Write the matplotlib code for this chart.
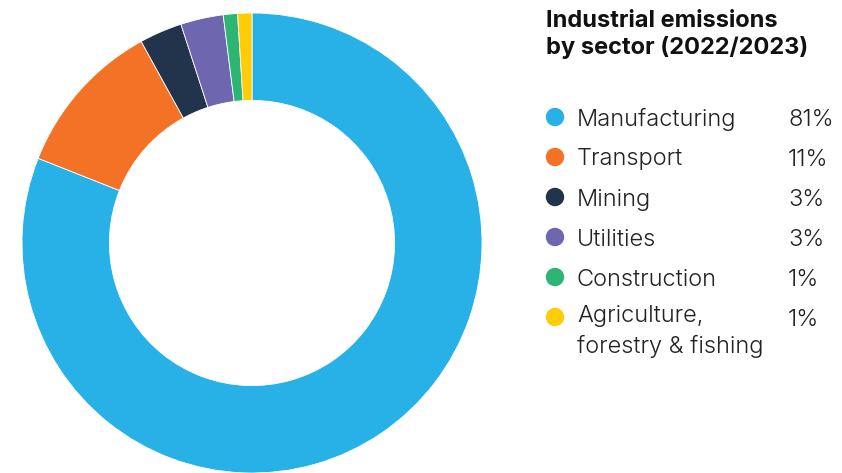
import matplotlib.pyplot as plt
from matplotlib.patches import Circle

sectors = ["Manufacturing", "Transport", "Mining", "Utilities", "Construction",
           "Agriculture,\nforestry & fishing"]
shares = [81, 11, 3, 3, 1, 1]
colors = ["#27B1E6", "#F37225", "#22344C", "#6E67AF", "#2DB574", "#FFCC08"]

W, H = 842, 473
fig = plt.figure(figsize=(W / 100, H / 100), dpi=100)
plt.rcParams['font.family'] = ['Inter', 'DejaVu Sans']

# donut
ax = fig.add_axes([22 / W, 0, 460 / W, 460 / H])
ax.pie(shares, colors=colors, startangle=90, counterclock=False, radius=1,
       wedgeprops=dict(width=0.38, edgecolor='white', linewidth=0.6))
ax.set_xlim(-1, 1)
ax.set_ylim(-1, 1)
ax.set_aspect('equal')
ax.axis('off')

# title
fig.text(546 / W, 1 - 10 / H, "Industrial emissions\nby sector (2022/2023)",
         fontsize=17, fontweight='bold', color='#111111', va='top',
         linespacing=1.2)

# legend rows
row0 = 117
step = 40
for i, (name, val, c) in enumerate(zip(sectors, shares, colors)):
    y = row0 + i * step
    fig.patches.append(Circle((555, H - y), 8.5, color=c, transform=None))
    if '\n' in name:
        fig.text(577 / W, 1 - (y - 12) / H, name, fontsize=17, fontweight=300,
                 color='#222222', va='top', linespacing=1.45)
    else:
        fig.text(577 / W, 1 - y / H, name, fontsize=17, fontweight=300,
                 color='#222222', va='center_baseline')
    fig.text(788 / W, 1 - y / H, f"{val}%", fontsize=17, fontweight=300,
             color='#222222', va='center_baseline', ha='left')

fig.savefig("out.png", dpi=100)
